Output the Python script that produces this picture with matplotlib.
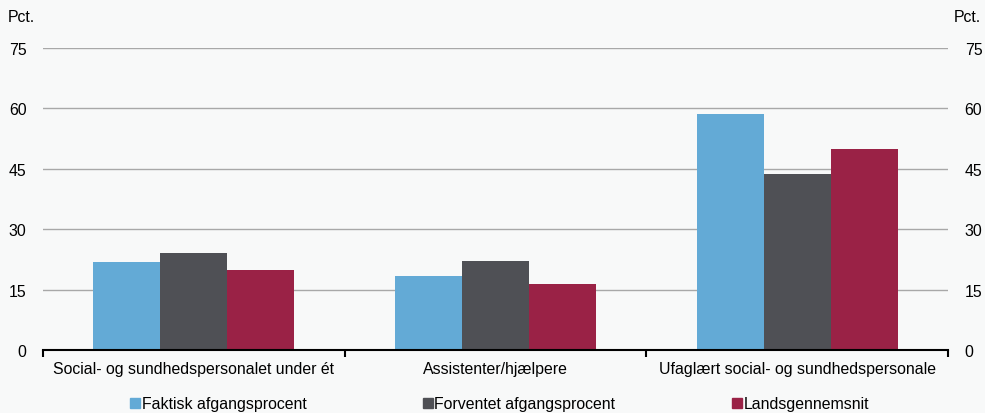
import matplotlib
matplotlib.use("Agg")
import matplotlib.pyplot as plt
from matplotlib.lines import Line2D
import numpy as np

plt.rcParams['font.family'] = ['Liberation Sans', 'DejaVu Sans']

categories = ["Social- og sundhedspersonalet under ét", "Assistenter/hjælpere",
              "Ufaglært social- og sundhedspersonale"]
series_names = ["Faktisk afgangsprocent", "Forventet afgangsprocent", "Landsgennemsnit"]
faktisk = [21.8, 18.3, 58.6]
forventet = [24.0, 22.2, 43.6]
landsgns = [19.8, 16.4, 50.0]
yticks = [0, 15, 30, 45, 60, 75]

colors = ["#63AAD6", "#4F5055", "#9A2246"]
bg = "#F8F9F9"
fs = 11.45

fig = plt.figure(figsize=(9.85, 4.14), dpi=100, facecolor=bg)
ax = fig.add_axes([0.0437, 0.152, 0.9187, 0.7296], facecolor=bg)

x = np.arange(len(categories))
w = 0.222
for i, (vals, c) in enumerate(zip([faktisk, forventet, landsgns], colors)):
    ax.bar(x + (i - 1) * w, vals, width=w, color=c, zorder=3)

ax.set_xlim(-0.5, len(categories) - 0.5)
ax.set_ylim(0, 75)
ax.set_yticks(yticks)
ax.yaxis.grid(True, color="#A8A8A8", linewidth=1.0, zorder=0)
ax.tick_params(axis='y', length=0, labelsize=fs, pad=12, labelright=True, right=False)
for s in ['left', 'right', 'top']:
    ax.spines[s].set_visible(False)
ax.spines['bottom'].set_color('black')
ax.spines['bottom'].set_linewidth(1.5)
ax.spines['bottom'].set_zorder(4)

ax.set_xticks(x)
ax.set_xticklabels(categories, fontsize=fs)
ax.tick_params(axis='x', length=0, pad=8)
ax.set_xticks(np.arange(-0.5, len(categories)), minor=True)
ax.tick_params(axis='x', which='minor', length=5, width=1.5, direction='out', color='black')

fig.text(8 / 985, 1 - 18 / 414, "Pct.", fontsize=fs, ha='left', va='center')
fig.text(981 / 985, 1 - 18 / 414, "Pct.", fontsize=fs, ha='right', va='center')

handles = [Line2D([], [], marker='s', linestyle='none', markersize=7.5, color=c) for c in colors]
fig.legend(handles, series_names, loc='center', bbox_to_anchor=(0.507, 1 - 405 / 414),
           ncol=3, frameon=False, fontsize=fs, handletextpad=0.05, handlelength=0.7,
           columnspacing=7.3, borderaxespad=0)

fig.savefig("out.png", dpi=100, facecolor=bg)
